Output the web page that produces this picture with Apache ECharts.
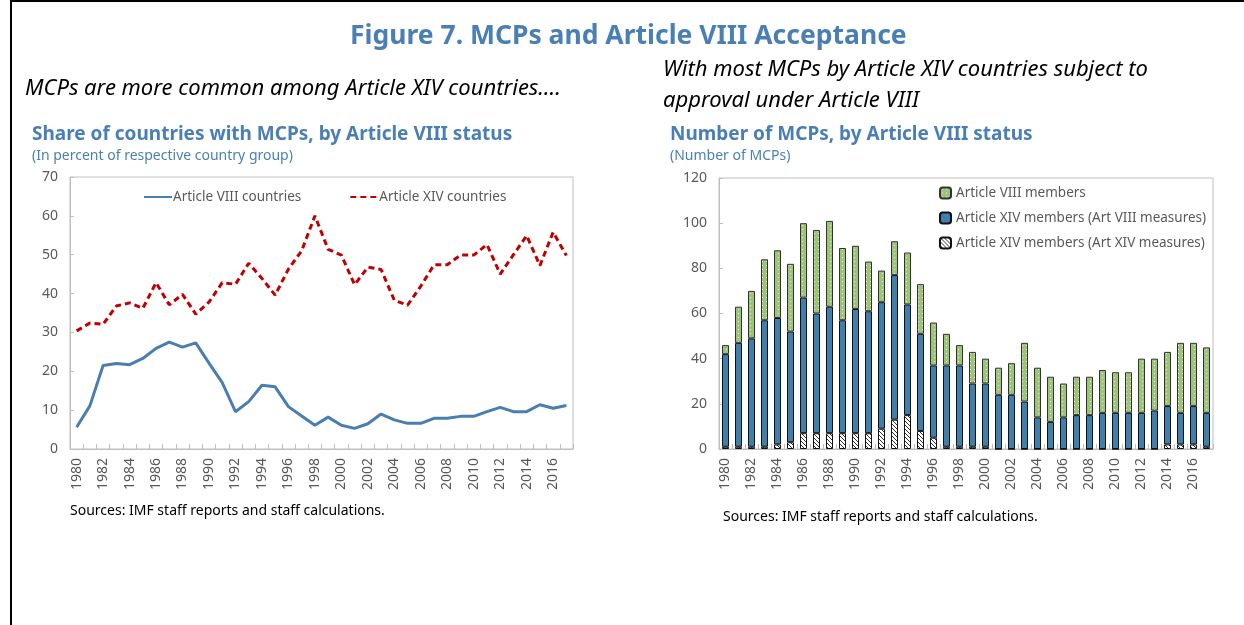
<!DOCTYPE html>
<html>
<head>
<meta charset="utf-8">
<script src="https://cdn.jsdelivr.net/npm/echarts@6/dist/echarts.min.js"></script>
<style>
  html, body { margin: 0; padding: 0; background: #fff; }
  #chart { width: 1244px; height: 625px; }
  .frameTop { position: absolute; left: 10px; top: 0; width: 1234px; height: 2px; background: #000; }
  .frameLeft { position: absolute; left: 10px; top: 0; width: 2px; height: 625px; background: #000; }
</style>
</head>
<body>
<div class="frameTop"></div>
<div class="frameLeft"></div>
<div id="chart"></div>
<script>
// years 1980-2017
var years = [];
for (var y = 1980; y <= 2017; y++) years.push(String(y));

// share of countries with MCPs (percent)
var art8Share = [5.6, 11.1, 21.5, 22.0, 21.7, 23.3, 25.9, 27.5, 26.2, 27.3,
  22.1, 17.1, 9.6, 12.2, 16.4, 16.0, 10.9, 8.5, 6.1, 8.2,
  6.1, 5.3, 6.5, 9.0, 7.5, 6.6, 6.6, 7.9, 7.9, 8.4,
  8.4, 9.6, 10.7, 9.6, 9.6, 11.4, 10.5, 11.2];
var art14Share = [30.4, 32.4, 32.1, 36.8, 37.6, 36.2, 42.8, 37.1, 39.8, 34.7,
  37.8, 42.8, 42.4, 47.8, 43.9, 39.6, 46.3, 51.0, 60.0, 51.4,
  49.9, 42.3, 46.8, 46.2, 38.3, 37.0, 41.9, 47.4, 47.4, 49.9,
  49.9, 52.6, 45.0, 50.0, 54.9, 47.2, 55.8, 49.8];

// number of MCPs (stack segments)
var art14Art14 = [1, 1, 1, 1, 2, 3, 7, 7, 7, 7,
  7, 7, 9, 13, 15, 8, 5, 1, 1, 1,
  1, 0, 0, 0, 0, 0, 0, 0, 0, 0,
  0, 0, 0, 0, 2, 2, 2, 1];
var art14Art8 = [41, 46, 48, 56, 56, 49, 60, 53, 56, 50,
  55, 54, 56, 64, 49, 43, 32, 36, 36, 28,
  28, 24, 24, 21, 14, 12, 14, 15, 15, 16,
  16, 16, 16, 17, 17, 14, 17, 15];
var art8Members = [4, 16, 21, 27, 30, 30, 33, 37, 38, 32,
  28, 22, 14, 15, 23, 22, 19, 14, 9, 14,
  11, 12, 14, 26, 22, 20, 15, 17, 17, 19,
  18, 18, 24, 23, 24, 31, 28, 29];

var leftTicks = [0, 10, 20, 30, 40, 50, 60, 70];
var rightTicks = [0, 20, 40, 60, 80, 100, 120];

var FONT = 'Noto Sans';
var BLUE_T = '#4a7fb5';
var GREY = '#595959';

function makePattern(kind) {
  var c = document.createElement('canvas');
  var ctx = c.getContext('2d');
  c.width = 4; c.height = 4;
  if (kind === 'green') {
    ctx.fillStyle = '#9dc47a';
    ctx.fillRect(0, 0, 4, 4);
    ctx.fillStyle = '#e6f0da';
    ctx.fillRect(2, 1, 1, 1);
  } else {
    ctx.fillStyle = '#ffffff';
    ctx.fillRect(0, 0, 4, 4);
    ctx.strokeStyle = '#333333';
    ctx.lineWidth = 1;
    ctx.beginPath();
    ctx.moveTo(0, 0); ctx.lineTo(4, 4);
    ctx.moveTo(-1, 3); ctx.lineTo(1, 5);
    ctx.moveTo(3, -1); ctx.lineTo(5, 1);
    ctx.stroke();
  }
  return { image: c, repeat: 'repeat' };
}

function catAxis(gridIndex) {
  return {
    type: 'category', gridIndex: gridIndex, data: years, boundaryGap: true,
    axisLine: { lineStyle: { color: '#bfbfbf', width: 1 } },
    axisTick: { show: true, inside: true, interval: 0, length: 5, lineStyle: { color: '#bfbfbf' } },
    axisLabel: { interval: 1, rotate: 90, margin: 9, color: GREY, fontSize: 14, fontFamily: FONT },
    splitLine: { show: false }
  };
}

function valAxis(gridIndex, ticks) {
  return {
    type: 'value', gridIndex: gridIndex, min: ticks[0], max: ticks[ticks.length - 1],
    interval: ticks[1] - ticks[0],
    axisLine: { show: true, lineStyle: { color: '#bfbfbf', width: 1 } },
    axisTick: { show: true, inside: true, length: 4, lineStyle: { color: '#bfbfbf' } },
    axisLabel: { margin: 12, color: GREY, fontSize: 14, fontFamily: FONT },
    splitLine: { show: false }
  };
}

function txt(text, left, top, size, color, extra) {
  return {
    text: text, left: left, top: top, padding: 0,
    textStyle: Object.assign({ color: color, fontSize: size, fontWeight: 'normal', fontFamily: FONT }, extra || {})
  };
}

var chart = echarts.init(document.getElementById('chart'), null, { renderer: 'canvas' });

chart.setOption({
  backgroundColor: 'transparent',
  animation: false,
  textStyle: { fontFamily: FONT },
  title: [
    txt('Figure 7. MCPs and Article VIII Acceptance', 350, 23, 26.5, BLUE_T, { fontWeight: 'bold' }),
    txt('MCPs are more common among Article XIV countries….', 25, 78, 22, '#000', { fontStyle: 'italic' }),
    txt('With most MCPs by Article XIV countries subject to\napproval under Article VIII', 663, 54, 22, '#000',
      { fontStyle: 'italic', lineHeight: 31 }),
    txt('Share of countries with MCPs, by Article VIII status', 32, 125, 19, BLUE_T, { fontWeight: 'bold' }),
    txt('(In percent of respective country group)', 32, 149, 14, BLUE_T),
    txt('Number of MCPs, by Article VIII status', 670, 125, 19, BLUE_T, { fontWeight: 'bold' }),
    txt('(Number of MCPs)', 670, 149, 14, BLUE_T),
    txt('Sources: IMF staff reports and staff calculations.', 70, 504, 14, '#000'),
    txt('Sources: IMF staff reports and staff calculations.', 723, 510, 14, '#000')
  ],
  legend: [
    {
      left: 138, top: 185, itemGap: 48, itemWidth: 28, itemHeight: 3,
      itemStyle: { opacity: 0 },
      textStyle: { color: GREY, fontSize: 13.5, fontFamily: FONT, padding: [0, 0, 0, -4] },
      data: ['Article VIII countries', 'Article XIV countries']
    },
    {
      left: 934, top: 181, orient: 'vertical', itemGap: 11, itemWidth: 11, itemHeight: 11,
      textStyle: { color: GREY, fontSize: 13.5, fontFamily: FONT },
      data: ['Article VIII members', 'Article XIV members (Art VIII measures)', 'Article XIV members (Art XIV measures)']
    }
  ],
  grid: [
    { left: 70, top: 177, width: 503, height: 272, show: true, borderColor: '#bfbfbf', borderWidth: 1 },
    { left: 719, top: 178, width: 494, height: 271, show: true, borderColor: '#bfbfbf', borderWidth: 1 }
  ],
  xAxis: [catAxis(0), catAxis(1)],
  yAxis: [valAxis(0, leftTicks), valAxis(1, rightTicks)],
  series: [
    {
      name: 'Article VIII countries', type: 'line', xAxisIndex: 0, yAxisIndex: 0,
      data: art8Share, symbol: 'none', color: '#4a7eb0',
      lineStyle: { color: '#4a7eb0', width: 3 }
    },
    {
      name: 'Article XIV countries', type: 'line', xAxisIndex: 0, yAxisIndex: 0,
      data: art14Share, symbol: 'none', color: '#c00000',
      lineStyle: { color: '#c00000', width: 3, type: [6, 4] }
    },
    {
      name: 'Article XIV members (Art XIV measures)', type: 'bar', stack: 'mcp',
      xAxisIndex: 1, yAxisIndex: 1, data: art14Art14, barWidth: 7,
      itemStyle: { color: makePattern('hatch'), borderColor: '#111', borderWidth: 1 }
    },
    {
      name: 'Article XIV members (Art VIII measures)', type: 'bar', stack: 'mcp',
      xAxisIndex: 1, yAxisIndex: 1, data: art14Art8, barWidth: 7,
      itemStyle: { color: '#3e7fab', borderColor: '#111', borderWidth: 1 }
    },
    {
      name: 'Article VIII members', type: 'bar', stack: 'mcp',
      xAxisIndex: 1, yAxisIndex: 1, data: art8Members, barWidth: 7,
      itemStyle: { color: makePattern('green'), borderColor: '#333', borderWidth: 1 }
    }
  ]
});
</script>
</body>
</html>
